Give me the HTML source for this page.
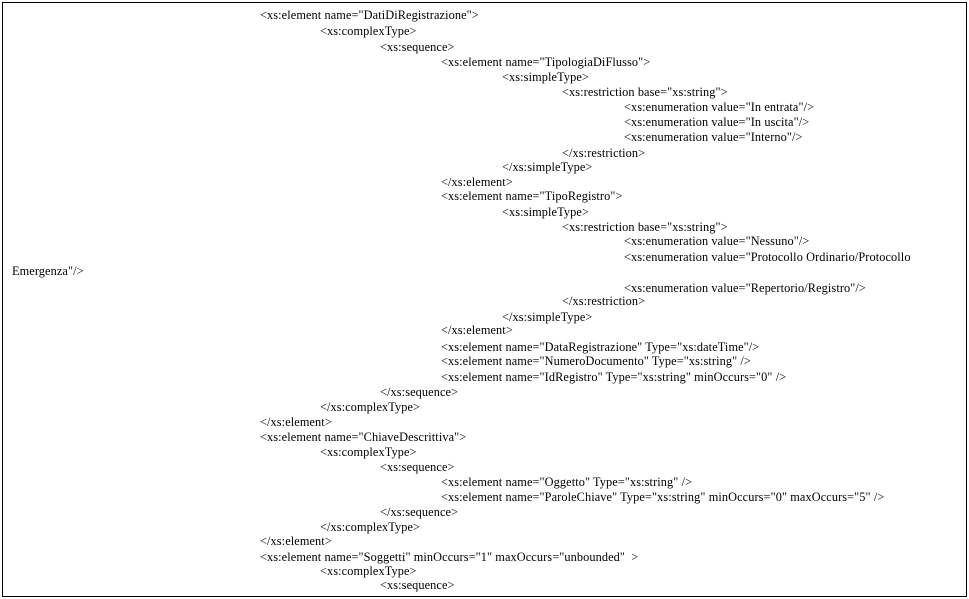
<!DOCTYPE html>
<html><head><meta charset="utf-8"><style>
html,body{margin:0;padding:0;background:#fff;}
body{width:969px;height:599px;position:relative;overflow:hidden;font-family:"Liberation Serif",serif;font-size:12.3px;letter-spacing:0.1px;color:#000;}
#b{position:absolute;left:2px;top:2px;width:963px;height:593px;border:1px solid #000;}
.l{position:absolute;white-space:pre;line-height:14px;height:14px;}
</style></head><body>
<div id="b"></div>
<div class="l" style="left:260px;top:8px">&lt;xs:element name="DatiDiRegistrazione"&gt;</div>
<div class="l" style="left:320px;top:24px">&lt;xs:complexType&gt;</div>
<div class="l" style="left:380px;top:40px">&lt;xs:sequence&gt;</div>
<div class="l" style="left:441px;top:55px">&lt;xs:element name="TipologiaDiFlusso"&gt;</div>
<div class="l" style="left:502px;top:70px">&lt;xs:simpleType&gt;</div>
<div class="l" style="left:562px;top:85px">&lt;xs:restriction base="xs:string"&gt;</div>
<div class="l" style="left:624px;top:100px">&lt;xs:enumeration value="In entrata"/&gt;</div>
<div class="l" style="left:624px;top:115px">&lt;xs:enumeration value="In uscita"/&gt;</div>
<div class="l" style="left:624px;top:130px">&lt;xs:enumeration value="Interno"/&gt;</div>
<div class="l" style="left:562px;top:146px">&lt;/xs:restriction&gt;</div>
<div class="l" style="left:502px;top:160px">&lt;/xs:simpleType&gt;</div>
<div class="l" style="left:441px;top:175px">&lt;/xs:element&gt;</div>
<div class="l" style="left:441px;top:189px">&lt;xs:element name="TipoRegistro"&gt;</div>
<div class="l" style="left:502px;top:205px">&lt;xs:simpleType&gt;</div>
<div class="l" style="left:562px;top:220px">&lt;xs:restriction base="xs:string"&gt;</div>
<div class="l" style="left:624px;top:234px">&lt;xs:enumeration value="Nessuno"/&gt;</div>
<div class="l" style="left:624px;top:250px">&lt;xs:enumeration value="Protocollo Ordinario/Protocollo</div>
<div class="l" style="left:12px;top:264px">Emergenza"/&gt;</div>
<div class="l" style="left:624px;top:281px">&lt;xs:enumeration value="Repertorio/Registro"/&gt;</div>
<div class="l" style="left:562px;top:294px">&lt;/xs:restriction&gt;</div>
<div class="l" style="left:502px;top:310px">&lt;/xs:simpleType&gt;</div>
<div class="l" style="left:441px;top:323px">&lt;/xs:element&gt;</div>
<div class="l" style="left:441px;top:340px">&lt;xs:element name="DataRegistrazione" Type="xs:dateTime"/&gt;</div>
<div class="l" style="left:441px;top:354px">&lt;xs:element name="NumeroDocumento" Type="xs:string" /&gt;</div>
<div class="l" style="left:441px;top:370px">&lt;xs:element name="IdRegistro" Type="xs:string" minOccurs="0" /&gt;</div>
<div class="l" style="left:380px;top:385px">&lt;/xs:sequence&gt;</div>
<div class="l" style="left:320px;top:400px">&lt;/xs:complexType&gt;</div>
<div class="l" style="left:260px;top:415px">&lt;/xs:element&gt;</div>
<div class="l" style="left:260px;top:430px">&lt;xs:element name="ChiaveDescrittiva"&gt;</div>
<div class="l" style="left:320px;top:445px">&lt;xs:complexType&gt;</div>
<div class="l" style="left:380px;top:460px">&lt;xs:sequence&gt;</div>
<div class="l" style="left:441px;top:475px">&lt;xs:element name="Oggetto" Type="xs:string" /&gt;</div>
<div class="l" style="left:441px;top:490px">&lt;xs:element name="ParoleChiave" Type="xs:string" minOccurs="0" maxOccurs="5" /&gt;</div>
<div class="l" style="left:380px;top:505px">&lt;/xs:sequence&gt;</div>
<div class="l" style="left:320px;top:520px">&lt;/xs:complexType&gt;</div>
<div class="l" style="left:260px;top:534px">&lt;/xs:element&gt;</div>
<div class="l" style="left:260px;top:550px">&lt;xs:element name="Soggetti" minOccurs="1" maxOccurs="unbounded"  &gt;</div>
<div class="l" style="left:320px;top:564px">&lt;xs:complexType&gt;</div>
<div class="l" style="left:380px;top:578px">&lt;xs:sequence&gt;</div>
</body></html>
